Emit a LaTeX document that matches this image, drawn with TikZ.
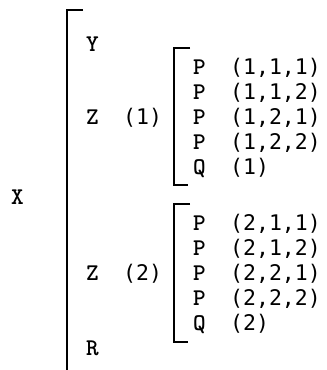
\documentclass[tikz,border=0pt]{standalone}
\usepackage{fontspec}
\newfontfamily\numfont{DejaVu Sans Mono}
\begin{document}
\begin{tikzpicture}[x=1pt,y=-1pt,
  lbl/.style={anchor=base west,inner sep=0pt,font=\ttfamily\bfseries\fontsize{24}{24}\selectfont},
  num/.style={anchor=base west,inner sep=0pt,font=\numfont\fontsize{21.5}{21.5}\selectfont},
  brk/.style={line width=2pt,line cap=butt}]
\useasboundingbox (0,0) rectangle (327,370);
% outer bracket
\draw[brk] (83,10) -- (67,10) -- (67,371);
\node[lbl] (x) at (11,204.5) {X};
\node[lbl] (y) at (86,51.5) {Y};
\node[lbl] (z1) at (86,124) {Z};
\node[num] (z1n) at (123,124) {(1)};
\node[lbl] (z2) at (86,280.5) {Z};
\node[num] (z2n) at (123,280.5) {(2)};
\node[lbl] (r) at (86,355.5) {R};
% first inner bracket
\draw[brk] (190,48) -- (174,48) -- (174,185) -- (188,185);
\node[lbl] (p111) at (193,74) {P};
\node[num] (n111) at (230,74) {(1,1,1)};
\node[lbl] (p112) at (193,99) {P};
\node[num] (n112) at (230,99) {(1,1,2)};
\node[lbl] (p121) at (193,124) {P};
\node[num] (n121) at (230,124) {(1,2,1)};
\node[lbl] (p122) at (193,149) {P};
\node[num] (n122) at (230,149) {(1,2,2)};
\node[lbl] (q1) at (193,174) {Q};
\node[num] (q1n) at (230,174) {(1)};
% second inner bracket
\draw[brk] (190,204) -- (174,204) -- (174,342) -- (188,342);
\node[lbl] (p211) at (193,230.5) {P};
\node[num] (n211) at (230,230.5) {(2,1,1)};
\node[lbl] (p212) at (193,255.5) {P};
\node[num] (n212) at (230,255.5) {(2,1,2)};
\node[lbl] (p221) at (193,280.5) {P};
\node[num] (n221) at (230,280.5) {(2,2,1)};
\node[lbl] (p222) at (193,305.5) {P};
\node[num] (n222) at (230,305.5) {(2,2,2)};
\node[lbl] (q2) at (193,330.5) {Q};
\node[num] (q2n) at (230,330.5) {(2)};
\end{tikzpicture}
\end{document}
